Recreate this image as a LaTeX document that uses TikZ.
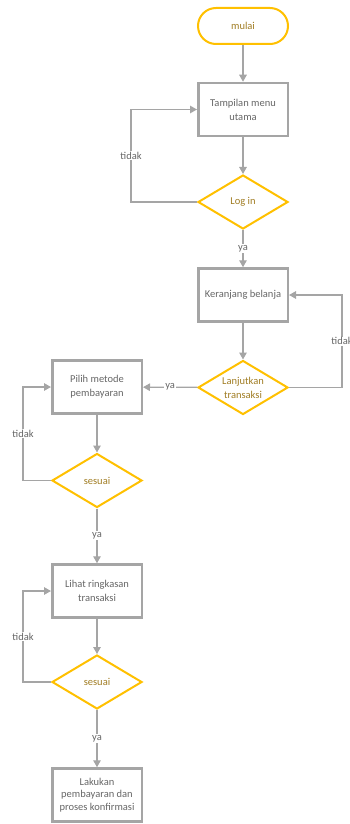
\documentclass[tikz,border=0pt]{standalone}
\usepackage{fontspec}
\setmainfont{Carlito}
\usetikzlibrary{arrows.meta,shapes.geometric}
\definecolor{linegray}{HTML}{A5A5A5}
\definecolor{boxtext}{HTML}{666666}
\definecolor{gold}{HTML}{FFC000}
\definecolor{goldtext}{HTML}{A07C22}
\tikzset{
  terminal/.style={draw=gold, line width=2pt, rounded corners=18pt,
    minimum width=90pt, minimum height=36pt, text=goldtext,
    font=\fontsize{10.5}{13}\selectfont},
  process/.style={draw=linegray, line width=2.5pt, minimum width=89.5pt,
    minimum height=53pt, align=center, text=boxtext,
    font=\fontsize{10.5}{14}\selectfont},
  decision/.style={draw=gold, line width=2pt, diamond, inner sep=0pt,
    minimum width=90pt, minimum height=54pt},
  dtext/.style={text=goldtext, align=center, font=\fontsize{10.5}{14}\selectfont},
  flow/.style={draw=linegray, line width=1.3pt,
    -{Triangle[length=7pt,width=7.5pt]}},
  lbl/.style={fill=white, text=boxtext, inner sep=1pt,
    font=\fontsize{10.5}{12}\selectfont},
}
\begin{document}
\begin{tikzpicture}[x=1pt,y=-1pt]
  \useasboundingbox (0,0) rectangle (350,824);
  \clip (0,0) rectangle (350,824);

  % main column
  \node[terminal] (mulai) at (243,26) {mulai};
  \node[process] (menu) at (243,109.5) {Tampilan menu\\utama};
  \node[decision, label={[dtext]center:Log in}] (login) at (243,202) {};
  \node[process] (keranjang) at (243,295) {Keranjang belanja};
  \node[decision, label={[dtext]center:Lanjutkan\\transaksi}] (lanjut) at (243,387.5) {};

  % payment column
  \node[process] (pilih) at (97,387) {Pilih metode\\pembayaran};
  \node[decision, label={[dtext]center:sesuai}] (sesuai1) at (97,480.5) {};
  \node[process] (lihat) at (97,591) {Lihat ringkasan\\transaksi};
  \node[decision, label={[dtext]center:sesuai}] (sesuai2) at (97,682) {};
  \node[process, font=\fontsize{10.5}{12.8}\selectfont] (bayar) at (97,795)
    {Lakukan\\pembayaran dan\\proses konfirmasi};

  % forward flow
  \draw[flow] (mulai) -- (menu);
  \draw[flow] (menu) -- (login);
  \draw[flow] (login) -- node[lbl] {ya} (keranjang);
  \draw[flow] (keranjang) -- (lanjut);
  \draw[flow] (lanjut) -- node[lbl] {ya} (pilih);
  \draw[flow] (pilih) -- (sesuai1);
  \draw[flow] (sesuai1) -- node[lbl] {ya} (lihat);
  \draw[flow] (lihat) -- (sesuai2);
  \draw[flow] (sesuai2) -- node[lbl] {ya} (bayar);

  % loops back on "tidak"
  \draw[flow] (login.west) -- ++(-66,0) |- node[lbl, pos=0.25] {tidak} (menu.west);
  \draw[flow] (lanjut.east) -- ++(53,0) |- node[lbl, pos=0.25] {tidak} (keranjang.east);
  \draw[flow] (sesuai1.west) -- ++(-28,0) |- node[lbl, pos=0.25] {tidak} (pilih.west);
  \draw[flow] (sesuai2.west) -- ++(-28,0) |- node[lbl, pos=0.25] {tidak} (lihat.west);
\end{tikzpicture}
\end{document}
